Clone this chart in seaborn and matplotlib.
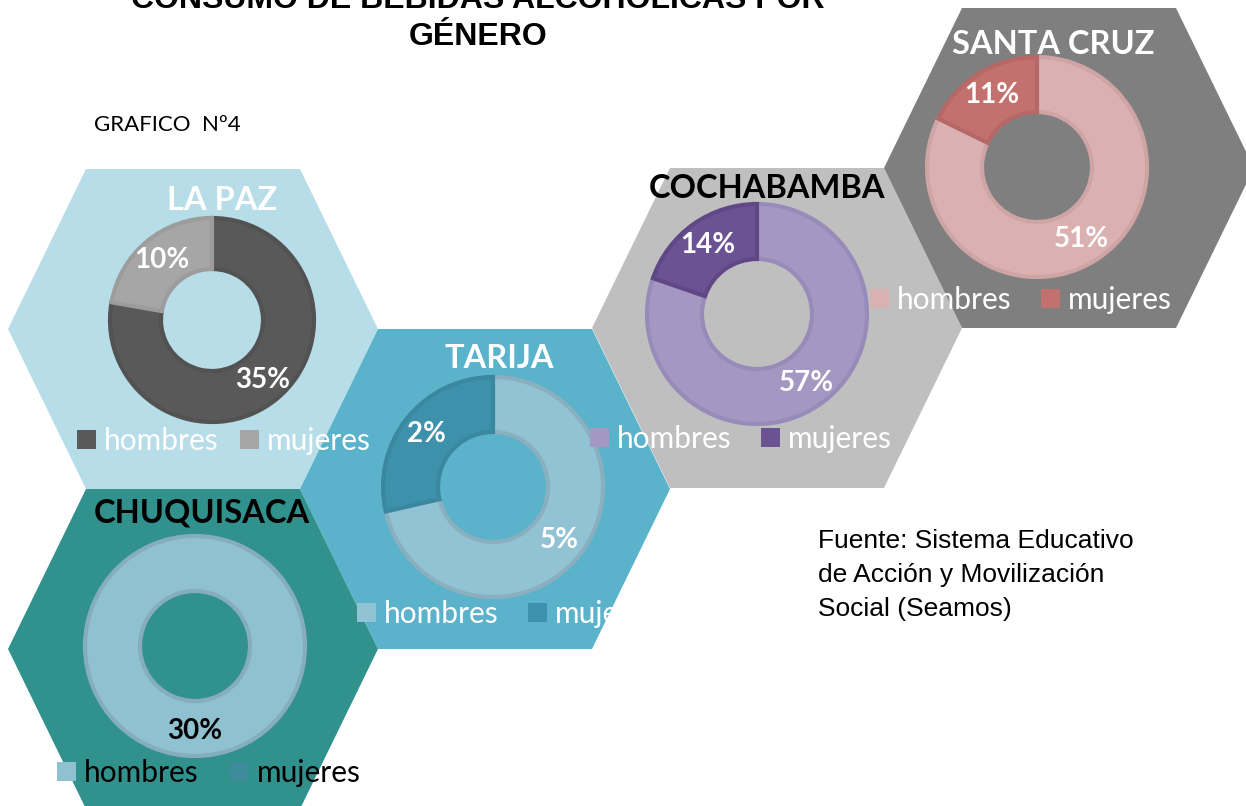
import matplotlib
matplotlib.use("Agg")
import matplotlib.pyplot as plt
from matplotlib.patches import Polygon, Patch
import seaborn as sns

regions = ["LA PAZ", "TARIJA", "CHUQUISACA", "COCHABAMBA", "SANTA CRUZ"]
hombres = [35, 5, 30, 57, 51]
mujeres = [10, 2, 0, 14, 11]
legend_labels = ["hombres", "mujeres"]

# colours
hex_colors = ["#b7dde8", "#5bb3cb", "#31928d", "#bfbfbf", "#7f7f7f"]
hombres_colors = sns.color_palette(["#595959", "#92c3d5", "#8fc1d0", "#a497c2", "#dab0b0"])
mujeres_colors = sns.color_palette(["#a6a6a6", "#3d91aa", "#3e8b9b", "#6b5293", "#c2716f"])
hombres_edges = ["#525252", "#8aafbf", "#86adbc", "#978bb9", "#cfa4a4"]
mujeres_edges = ["#9c9c9c", "#3a88a0", "#3a8595", "#604886", "#b56866"]
title_colors = ["white", "white", "black", "black", "white"]
pct_colors = ["white", "white", "black", "white", "white"]
legend_colors = ["white", "white", "black", "white", "white"]

# layout in pixels (y down)
W, H = 1246, 806
hex_centers = [(193, 329), (485, 489), (193, 649), (777, 328), (1069, 168)]
donut_centers = [(212, 320), (493, 487), (195, 646), (757, 314), (1037, 167)]
donut_radius = [102, 110, 110, 110, 110]
title_pos = [(222, 200), (499, 359), (202, 513), (767, 188), (1053, 44)]
legend_pos = [(77, 441), (357, 614), (57, 773), (590, 439), (870, 300)]
legend_gap = [0.72, 1.0, 1.05, 1.0, 1.0]

sns.set_theme(style="white")
plt.rcParams["font.family"] = ["Lato", "DejaVu Sans"]

fig = plt.figure(figsize=(W / 100, H / 100), dpi=100)
fig.patch.set_facecolor("white")

bg = fig.add_axes([0, 0, 1, 1])
bg.set_xlim(0, W)
bg.set_ylim(H, 0)
bg.axis("off")


def hexagon(cx, cy, a=185, b=160, c=107):
    return [(cx - a, cy), (cx - c, cy - b), (cx + c, cy - b),
            (cx + a, cy), (cx + c, cy + b), (cx - c, cy + b)]


hex_patches = []
for (cx, cy), col in zip(hex_centers, hex_colors):
    p = Polygon(hexagon(cx, cy), closed=True, facecolor=col, edgecolor="none", zorder=1)
    bg.add_patch(p)
    hex_patches.append(p)

# titles (first line is cut by the top edge, as in the original)
bg.text(478, 8, "CONSUMO DE BEBIDAS ALCOHOLICAS POR", ha="center", va="baseline",
        fontsize=23, fontweight="bold", family="Liberation Sans", color="black")
bg.text(478, 45, "GÉNERO", ha="center", va="baseline",
        fontsize=23, fontweight="bold", family="Liberation Sans", color="black")
bg.text(94, 131, "GRAFICO  Nº4", ha="left", va="baseline", fontsize=16, color="black")

fuente = ["Fuente: Sistema Educativo", "de Acción y Movilización", "Social (Seamos)"]
for i, line in enumerate(fuente):
    bg.text(818, 548 + 34 * i, line, ha="left", va="baseline", fontsize=19,
            family="Liberation Sans", color="black")

for i, name in enumerate(regions):
    tx, ty = title_pos[i]
    bg.text(tx, ty, name, ha="center", va="center", fontsize=23.5, fontweight="bold",
            color=title_colors[i], zorder=3)

    cx, cy = donut_centers[i]
    R = donut_radius[i] * 1.08
    ax = fig.add_axes([(cx - R) / W, 1 - (cy + R) / H, 2 * R / W, 2 * R / H])
    vals = [hombres[i], mujeres[i]]
    labels = [f"{v}%" if v > 0 else "" for v in vals]
    wedges, texts = ax.pie(
        vals, radius=1, startangle=90, counterclock=False,
        colors=[hombres_colors[i], mujeres_colors[i]],
        wedgeprops=dict(width=0.5, linewidth=3),
        labels=labels, labeldistance=0.77,
        textprops=dict(fontsize=20, fontweight="bold", color=pct_colors[i]),
    )
    wedges[0].set_edgecolor(hombres_edges[i])
    wedges[1].set_edgecolor(mujeres_edges[i])
    for w, v in zip(wedges, vals):
        if v == 0:
            w.set_visible(False)
    for t in texts:
        t.set_ha("center")
        t.set_va("center")
    ax.set_xlim(-1.08, 1.08)
    ax.set_ylim(-1.08, 1.08)
    ax.axis("off")

    handles = [Patch(facecolor=hombres_colors[i], edgecolor="none"),
               Patch(facecolor=mujeres_colors[i], edgecolor="none")]
    leg = ax.legend(handles, legend_labels, ncol=2, loc="center left",
                    bbox_to_anchor=legend_pos[i], bbox_transform=bg.transData,
                    frameon=False, fontsize=21.5, handlelength=0.62, handleheight=0.62,
                    handletextpad=0.28, columnspacing=legend_gap[i], borderpad=0,
                    borderaxespad=0, labelcolor=legend_colors[i])
    if name == "TARIJA":
        for t in leg.get_texts():
            t.set_clip_path(hex_patches[i])

fig.savefig("out.png", dpi=100)
